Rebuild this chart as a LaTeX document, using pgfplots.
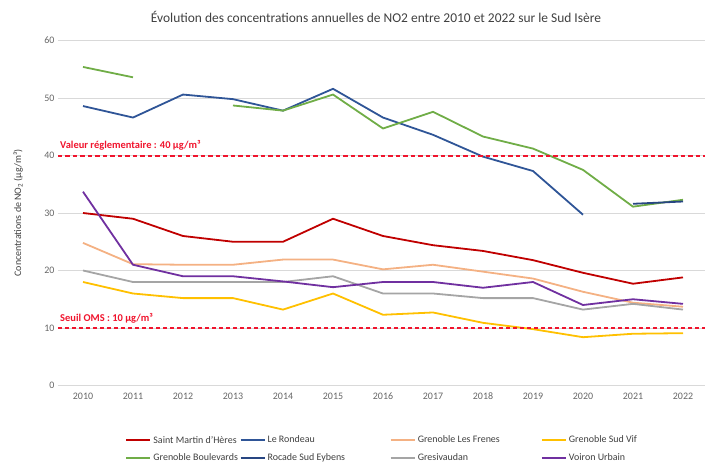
\documentclass[border=0pt]{standalone}
\usepackage{fontspec}
\setmainfont{Carlito}
\usepackage{pgfplots}
\pgfplotsset{compat=1.18}
\definecolor{cRed}{RGB}{192,0,0}
\definecolor{cBlue}{RGB}{47,85,151}
\definecolor{cBlue2}{RGB}{40,70,130}
\definecolor{cOrange}{RGB}{244,177,131}
\definecolor{cYellow}{RGB}{255,192,0}
\definecolor{cGreen}{RGB}{112,173,71}
\definecolor{cGray}{RGB}{165,165,165}
\definecolor{cPurple}{RGB}{112,48,160}
\definecolor{cDash}{RGB}{240,20,45}
\begin{document}
\begin{tikzpicture}
\begin{axis}[
  at={(0,0)}, anchor=south west,
  scale only axis, width=650bp, height=345bp,
  xmin=2009.5, xmax=2022.5, ymin=0, ymax=60,
  ytick={0,10,20,30,40,50,60},
  xtick={2010,2011,2012,2013,2014,2015,2016,2017,2018,2019,2020,2021,2022},
  xticklabels={2010,2011,2012,2013,2014,2015,2016,2017,2018,2019,2020,2021,2022},
  ymajorgrids, grid style={draw=black!15, line width=0.8bp},
  axis line style={draw=none}, major tick length=0pt,
  tick label style={font=\fontsize{10}{12}\selectfont, text=black!60},
  xticklabel style={yshift=-4bp},
  /pgf/number format/assume math mode=true,
  ylabel={Concentrations de NO\textsubscript{2} (µg/m³)},
  y label style={at={(axis description cs:-0.0615,0.5)}, anchor=center, font=\fontsize{10}{12}\selectfont, text=black!75},
  unbounded coords=jump,
  legend columns=4,
  legend style={at={(axis description cs:0.1031,-0.184)}, anchor=west, draw=none, inner sep=0pt,
    font=\fontsize{10}{12}\selectfont, text=black!75, row sep=5bp,
    /tikz/every even column/.append style={column sep=0pt}},
  legend image code/.code={\draw[#1, line width=2.2bp] (0bp,0bp) -- (24bp,0bp);},
  every axis plot/.append style={line width=1.8bp},
]
\addplot[cRed] coordinates {(2010,30) (2011,29) (2012,26) (2013,25) (2014,25) (2015,29) (2016,26) (2017,24.4) (2018,23.4) (2019,21.8) (2020,19.6) (2021,17.7) (2022,18.8)};
\addlegendentry{\makebox[84bp][l]{Saint Martin d'Hères}}
\addplot[cBlue] coordinates {(2010,48.6) (2011,46.6) (2012,50.6) (2013,49.8) (2014,47.8) (2015,51.6) (2016,46.6) (2017,43.6) (2018,39.8) (2019,37.3) (2020,29.7)};
\addlegendentry{\makebox[120bp][l]{Le Rondeau}}
\addplot[cOrange] coordinates {(2010,24.8) (2011,21.1) (2012,21) (2013,21) (2014,21.9) (2015,21.9) (2016,20.2) (2017,21) (2018,19.8) (2019,18.6) (2020,16.3) (2021,14.4) (2022,13.7)};
\addlegendentry{\makebox[121bp][l]{Grenoble Les Frenes}}
\addplot[cYellow] coordinates {(2010,18) (2011,16) (2012,15.2) (2013,15.2) (2014,13.2) (2015,16) (2016,12.3) (2017,12.7) (2018,10.9) (2019,9.8) (2020,8.4) (2021,9) (2022,9.1)};
\addlegendentry{\makebox[70bp][l]{Grenoble Sud Vif}}
\addplot[cGreen] coordinates {(2010,55.4) (2011,53.6) (2012,nan) (2013,48.7) (2014,47.8) (2015,50.6) (2016,44.7) (2017,47.6) (2018,43.3) (2019,41.2) (2020,37.5) (2021,31.1) (2022,32.3)};
\addlegendentry{\makebox[84bp][l]{Grenoble Boulevards}}
\addplot[cBlue2] coordinates {(2021,31.6) (2022,32)};
\addlegendentry{\makebox[120bp][l]{Rocade Sud Eybens}}
\addplot[cGray] coordinates {(2010,20) (2011,18) (2012,18) (2013,18) (2014,18) (2015,19) (2016,16) (2017,16) (2018,15.2) (2019,15.2) (2020,13.2) (2021,14.2) (2022,13.2)};
\addlegendentry{\makebox[121bp][l]{Gresivaudan}}
\addplot[cPurple] coordinates {(2010,33.7) (2011,21) (2012,19) (2013,19) (2014,18.1) (2015,17.1) (2016,18) (2017,18) (2018,17) (2019,18) (2020,14) (2021,15) (2022,14.2)};
\addlegendentry{\makebox[70bp][l]{Voiron Urbain}}
\addplot[color=cDash, dash pattern=on 4.5bp off 3bp, line width=2bp, forget plot] coordinates {(2009.5,40) (2022.5,40)};
\addplot[color=cDash, dash pattern=on 4bp off 3bp, line width=1.5bp, forget plot] coordinates {(2009.5,10) (2022.5,10)};
\node[anchor=south west, inner sep=0pt, xshift=2bp, yshift=5bp, text=cDash, font=\bfseries\fontsize{10.5}{12}\selectfont] at (axis cs:2009.5,40) {Valeur réglementaire : 40 µg/m³};
\node[anchor=south west, inner sep=0pt, xshift=2bp, yshift=5bp, text=cDash, font=\bfseries\fontsize{10.5}{12}\selectfont] at (axis cs:2009.5,10) {Seuil OMS : 10 µg/m³};
\end{axis}
\node[font=\fontsize{13.5}{16}\selectfont, text=black!75] at (318bp,368.5bp) {Évolution des concentrations annuelles de NO2 entre 2010 et 2022 sur le Sud Isère};
\pgfresetboundingbox
\path[use as bounding box] (-58bp,-77.5bp) rectangle (647bp,385.5bp);
\end{tikzpicture}
\end{document}
